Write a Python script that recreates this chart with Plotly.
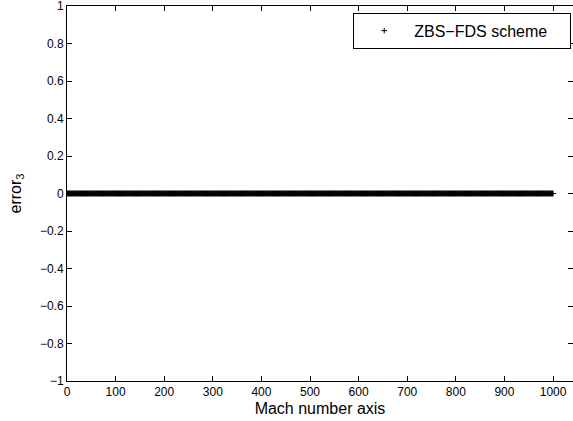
import plotly.graph_objects as go

# Data
mach_index = list(range(0, 1001))
error3 = [0.0] * len(mach_index)
x_ticks = [0, 100, 200, 300, 400, 500, 600, 700, 800, 900, 1000]
x_tick_text = ["0", "100", "200", "300", "400", "500", "600", "700", "800", "900", "1000"]
y_ticks = [-1, -0.8, -0.6, -0.4, -0.2, 0, 0.2, 0.4, 0.6, 0.8, 1]
y_tick_text = ["−1", "−0.8", "−0.6", "−0.4", "−0.2", "0", "0.2", "0.4", "0.6", "0.8", "1"]
series_name = "ZBS−FDS scheme"

font_family = "Liberation Sans, Arial, Helvetica, sans-serif"

fig = go.Figure()
fig.add_trace(go.Scatter(
    x=mach_index, y=error3, mode="markers",
    name=series_name + "\u00a0\u00a0\u00a0\u00a0",
    marker=dict(symbol="cross-thin", size=4, color="black",
                line=dict(width=1, color="black")),
))

axis_common = dict(
    showgrid=False, zeroline=False, showline=True, linecolor="black", linewidth=1,
    ticks="inside", ticklen=5, tickcolor="black", mirror="ticks",
    tickfont=dict(family=font_family, size=12, color="black"),
    automargin=False, ticklabeloverflow="allow",
)

fig.update_layout(
    width=573, height=421,
    margin=dict(l=67, r=0, t=6, b=40),
    paper_bgcolor="white", plot_bgcolor="white",
    font=dict(family=font_family, color="black"),
    showlegend=True,
    legend=dict(
        x=0.9965, y=0.982, xanchor="right", yanchor="top",
        bordercolor="black", borderwidth=1, bgcolor="white",
        font=dict(family=font_family, size=16, color="black"),
        itemwidth=50,
    ),
    xaxis=dict(range=[0, 1041], tickvals=x_ticks, ticktext=x_tick_text,
               title=dict(text="Mach number axis", standoff=4,
                          font=dict(family=font_family, size=16)),
               **axis_common),
    yaxis=dict(range=[-1, 1], tickvals=y_ticks, ticktext=y_tick_text,
               title=dict(text="error<sub>3</sub>", standoff=14,
                          font=dict(family=font_family, size=16)),
               **axis_common),
)

fig.write_html("out.html")
